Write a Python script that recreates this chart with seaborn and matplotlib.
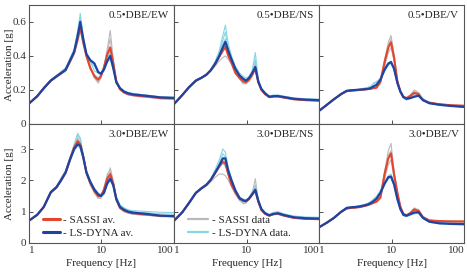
import matplotlib
matplotlib.use("Agg")
import matplotlib.pyplot as plt
from matplotlib.lines import Line2D
from matplotlib.ticker import FixedLocator, NullLocator
import seaborn as sns

freq = [1, 1.3, 1.6, 2, 2.4, 2.8, 3.2, 3.7, 4.2, 4.7, 5.1, 5.6, 6.2, 7, 8, 9, 9.8, 10.8,
        12, 13.2, 14.5, 16, 18, 20.5, 23.5, 27, 33, 45, 65, 100]

# 0.5 DBE / EW
ew05_dyna = [0.12,0.163,0.21,0.255,0.28,0.30,0.318,0.375,0.425,0.52,0.60,0.50,0.41,0.375,0.355,0.305,0.295,0.32,0.37,0.40,0.33,0.245,0.21,0.19,0.18,0.174,0.17,0.164,0.156,0.153]
ew05_sassi = [0.12,0.163,0.21,0.255,0.28,0.30,0.318,0.37,0.42,0.50,0.57,0.48,0.40,0.33,0.28,0.26,0.28,0.33,0.41,0.45,0.36,0.25,0.205,0.185,0.175,0.17,0.165,0.16,0.152,0.15]
ew05_sassi_data = [
    [0.12,0.165,0.21,0.26,0.285,0.31,0.33,0.38,0.43,0.53,0.62,0.50,0.41,0.34,0.27,0.24,0.27,0.34,0.44,0.55,0.38,0.26,0.21,0.19,0.18,0.175,0.17,0.165,0.158,0.155],
    [0.12,0.16,0.205,0.25,0.275,0.295,0.31,0.36,0.41,0.48,0.55,0.47,0.39,0.32,0.29,0.27,0.29,0.32,0.39,0.42,0.34,0.24,0.20,0.18,0.17,0.165,0.16,0.155,0.148,0.145],
    [0.12,0.163,0.212,0.258,0.282,0.305,0.325,0.37,0.42,0.51,0.58,0.49,0.40,0.33,0.27,0.25,0.27,0.34,0.42,0.50,0.37,0.255,0.21,0.19,0.178,0.172,0.166,0.16,0.153,0.15]]
ew05_dyna_data = [
    [0.12,0.165,0.215,0.26,0.285,0.305,0.33,0.39,0.44,0.55,0.65,0.52,0.42,0.38,0.36,0.31,0.30,0.33,0.38,0.42,0.34,0.25,0.215,0.195,0.185,0.18,0.175,0.168,0.16,0.158],
    [0.12,0.16,0.205,0.25,0.275,0.295,0.31,0.365,0.41,0.50,0.58,0.48,0.40,0.36,0.34,0.30,0.29,0.31,0.36,0.38,0.32,0.24,0.205,0.185,0.175,0.17,0.165,0.16,0.152,0.15],
    [0.12,0.163,0.21,0.257,0.28,0.30,0.32,0.38,0.43,0.53,0.62,0.51,0.41,0.37,0.31,0.30,0.30,0.33,0.38,0.44,0.35,0.25,0.21,0.19,0.18,0.176,0.172,0.166,0.158,0.155]]

# 0.5 DBE / NS
ns05_dyna = [0.117,0.17,0.215,0.255,0.272,0.29,0.315,0.355,0.40,0.45,0.483,0.43,0.38,0.325,0.285,0.265,0.255,0.27,0.30,0.335,0.25,0.205,0.18,0.16,0.163,0.164,0.158,0.148,0.143,0.14]
ns05_sassi = [0.117,0.17,0.215,0.255,0.272,0.29,0.315,0.353,0.395,0.43,0.453,0.40,0.36,0.30,0.27,0.25,0.245,0.26,0.29,0.325,0.245,0.20,0.175,0.158,0.162,0.162,0.155,0.145,0.14,0.137]
ns05_sassi_data = [
    [0.117,0.17,0.212,0.25,0.268,0.285,0.31,0.34,0.37,0.39,0.40,0.38,0.35,0.30,0.27,0.24,0.235,0.25,0.28,0.33,0.24,0.20,0.175,0.155,0.16,0.16,0.152,0.143,0.138,0.135],
    [0.117,0.17,0.215,0.255,0.272,0.29,0.315,0.35,0.39,0.43,0.46,0.41,0.36,0.31,0.28,0.26,0.25,0.26,0.30,0.36,0.25,0.205,0.18,0.16,0.165,0.165,0.158,0.148,0.143,0.14],
    [0.117,0.168,0.21,0.25,0.27,0.288,0.312,0.35,0.40,0.45,0.48,0.42,0.37,0.31,0.265,0.235,0.24,0.26,0.29,0.34,0.245,0.20,0.175,0.157,0.16,0.16,0.155,0.145,0.14,0.137]]
ns05_dyna_data = [
    [0.117,0.172,0.218,0.258,0.275,0.295,0.32,0.37,0.43,0.52,0.58,0.47,0.40,0.34,0.30,0.28,0.27,0.28,0.31,0.38,0.26,0.21,0.185,0.165,0.17,0.17,0.163,0.153,0.148,0.145],
    [0.117,0.17,0.215,0.255,0.272,0.29,0.315,0.36,0.41,0.47,0.50,0.45,0.39,0.33,0.29,0.27,0.26,0.27,0.30,0.33,0.25,0.205,0.18,0.16,0.165,0.165,0.16,0.15,0.145,0.142],
    [0.117,0.17,0.213,0.252,0.27,0.29,0.318,0.36,0.42,0.49,0.54,0.44,0.38,0.32,0.285,0.26,0.255,0.275,0.32,0.42,0.26,0.21,0.185,0.163,0.168,0.168,0.16,0.15,0.145,0.143]]

# 0.5 DBE / V
v05_dyna = [0.077,0.115,0.145,0.175,0.195,0.198,0.20,0.202,0.204,0.206,0.21,0.22,0.23,0.26,0.32,0.355,0.364,0.325,0.24,0.19,0.158,0.148,0.152,0.16,0.166,0.14,0.122,0.113,0.106,0.10]
v05_sassi = [0.077,0.115,0.145,0.175,0.193,0.196,0.198,0.20,0.203,0.205,0.207,0.21,0.213,0.25,0.365,0.45,0.48,0.39,0.25,0.19,0.16,0.152,0.165,0.183,0.175,0.14,0.125,0.116,0.11,0.107]
v05_sassi_data = [
    [0.077,0.115,0.145,0.175,0.193,0.196,0.198,0.20,0.203,0.205,0.207,0.21,0.215,0.24,0.38,0.48,0.52,0.41,0.26,0.195,0.16,0.15,0.17,0.20,0.185,0.145,0.128,0.118,0.112,0.108],
    [0.077,0.113,0.143,0.172,0.19,0.194,0.196,0.198,0.2,0.203,0.205,0.21,0.215,0.235,0.34,0.42,0.45,0.37,0.24,0.185,0.157,0.15,0.16,0.175,0.17,0.138,0.122,0.113,0.108,0.105],
    [0.077,0.115,0.146,0.176,0.195,0.198,0.2,0.205,0.21,0.215,0.22,0.225,0.23,0.25,0.35,0.46,0.50,0.38,0.25,0.19,0.16,0.15,0.162,0.19,0.18,0.14,0.125,0.116,0.11,0.106]]
v05_dyna_data = [
    [0.077,0.116,0.147,0.177,0.197,0.2,0.202,0.205,0.21,0.215,0.22,0.235,0.245,0.27,0.33,0.36,0.37,0.33,0.245,0.19,0.155,0.145,0.155,0.17,0.18,0.15,0.125,0.115,0.108,0.102],
    [0.077,0.114,0.144,0.174,0.194,0.197,0.2,0.2,0.202,0.205,0.21,0.22,0.235,0.26,0.31,0.345,0.355,0.32,0.235,0.185,0.152,0.14,0.148,0.158,0.165,0.145,0.12,0.11,0.104,0.098],
    [0.077,0.115,0.145,0.175,0.195,0.198,0.2,0.203,0.205,0.21,0.215,0.24,0.25,0.265,0.33,0.35,0.36,0.315,0.24,0.19,0.155,0.143,0.15,0.165,0.175,0.148,0.123,0.113,0.106,0.1]]

# 3.0 DBE / EW
ew30_dyna = [0.71,0.90,1.15,1.62,1.78,2.02,2.25,2.68,3.00,3.15,3.1,2.75,2.25,1.95,1.70,1.55,1.5,1.6,1.9,2.05,1.85,1.40,1.15,1.06,1.0,0.97,0.95,0.92,0.87,0.86]
ew30_sassi = [0.71,0.90,1.15,1.62,1.78,2.02,2.25,2.68,3.05,3.25,3.15,2.75,2.25,1.92,1.65,1.5,1.5,1.7,2.05,2.2,1.9,1.4,1.12,1.03,0.98,0.95,0.93,0.9,0.87,0.85]
ew30_sassi_data = [
    [0.71,0.9,1.15,1.6,1.77,2.05,2.3,2.7,3.1,3.45,3.3,2.8,2.2,1.85,1.6,1.45,1.42,1.65,2.1,2.4,2.0,1.45,1.15,1.05,0.98,0.95,0.93,0.9,0.86,0.85],
    [0.71,0.88,1.12,1.58,1.75,1.98,2.2,2.62,2.95,3.2,3.05,2.7,2.3,1.95,1.65,1.5,1.47,1.62,1.95,2.15,1.85,1.38,1.1,1.0,0.95,0.92,0.9,0.88,0.84,0.83],
    [0.71,0.91,1.16,1.63,1.8,2.1,2.3,2.75,3.1,3.35,3.2,2.75,2.25,1.9,1.6,1.42,1.45,1.75,2.2,2.3,1.9,1.42,1.13,1.03,0.97,0.94,0.92,0.9,0.86,0.85]]
ew30_dyna_data = [
    [0.71,0.91,1.17,1.65,1.82,2.08,2.32,2.75,3.15,3.5,3.35,2.85,2.3,2.0,1.75,1.6,1.55,1.65,1.95,2.15,1.95,1.5,1.22,1.12,1.06,1.03,1.02,1.0,0.98,0.97],
    [0.71,0.89,1.13,1.6,1.77,2.0,2.22,2.65,2.95,3.1,3.0,2.65,2.2,1.9,1.65,1.5,1.45,1.55,1.85,2.0,1.8,1.35,1.1,1.0,0.95,0.92,0.9,0.88,0.85,0.84],
    [0.71,0.9,1.15,1.62,1.79,2.04,2.28,2.72,3.05,3.3,3.2,2.8,2.3,1.98,1.72,1.55,1.5,1.6,1.92,2.1,1.9,1.45,1.18,1.08,1.02,1.0,0.98,0.96,0.93,0.92]]

# 3.0 DBE / NS
ns30_dyna = [0.71,0.98,1.27,1.6,1.75,1.86,2.01,2.25,2.47,2.70,2.70,2.30,2.0,1.68,1.43,1.36,1.34,1.42,1.56,1.70,1.35,1.08,0.95,0.88,0.93,0.95,0.89,0.82,0.79,0.78]
ns30_sassi = [0.71,0.98,1.27,1.6,1.75,1.86,2.01,2.24,2.45,2.58,2.55,2.2,1.85,1.62,1.42,1.35,1.33,1.4,1.55,1.67,1.32,1.05,0.93,0.87,0.92,0.93,0.87,0.8,0.77,0.76]
ns30_sassi_data = [
    [0.71,0.97,1.25,1.57,1.72,1.82,1.95,2.1,2.2,2.2,2.15,2.0,1.8,1.55,1.35,1.28,1.27,1.4,1.6,2.05,1.35,1.05,0.92,0.86,0.9,0.92,0.86,0.79,0.76,0.75],
    [0.71,0.98,1.27,1.6,1.75,1.86,2.0,2.25,2.45,2.6,2.5,2.15,1.85,1.6,1.38,1.3,1.3,1.4,1.55,1.65,1.3,1.05,0.93,0.87,0.92,0.94,0.88,0.81,0.78,0.77],
    [0.71,0.97,1.26,1.58,1.74,1.85,2.0,2.2,2.4,2.55,2.45,2.2,1.9,1.6,1.4,1.25,1.28,1.45,1.65,1.85,1.35,1.07,0.94,0.88,0.93,0.95,0.88,0.8,0.77,0.76]]
ns30_dyna_data = [
    [0.71,0.99,1.29,1.62,1.77,1.88,2.05,2.35,2.65,3.0,2.9,2.4,2.05,1.72,1.48,1.4,1.38,1.45,1.6,1.8,1.4,1.12,0.98,0.92,0.98,1.0,0.93,0.86,0.83,0.82],
    [0.71,0.98,1.27,1.6,1.75,1.86,2.02,2.25,2.45,2.65,2.6,2.25,1.95,1.65,1.42,1.35,1.33,1.42,1.56,1.72,1.35,1.08,0.95,0.88,0.93,0.95,0.89,0.82,0.79,0.78],
    [0.71,0.97,1.26,1.59,1.74,1.85,2.0,2.28,2.55,2.85,2.75,2.3,1.95,1.65,1.42,1.33,1.31,1.4,1.52,1.65,1.32,1.05,0.93,0.87,0.92,0.94,0.88,0.81,0.78,0.77]]

# 3.0 DBE / V
v30_dyna = [0.5,0.66,0.8,0.99,1.12,1.14,1.15,1.17,1.2,1.23,1.27,1.33,1.42,1.6,1.9,2.1,2.12,1.87,1.4,1.08,0.9,0.87,0.92,0.97,0.98,0.8,0.68,0.63,0.61,0.6]
v30_sassi = [0.5,0.66,0.8,0.99,1.1,1.12,1.13,1.15,1.18,1.21,1.24,1.28,1.32,1.45,2.2,2.7,2.86,2.18,1.6,1.15,0.93,0.88,0.95,1.07,1.02,0.82,0.72,0.7,0.69,0.69]
v30_sassi_data = [
    [0.5,0.66,0.8,0.99,1.1,1.12,1.13,1.15,1.18,1.21,1.24,1.28,1.32,1.5,2.3,2.95,3.18,2.3,1.65,1.18,0.95,0.9,0.97,1.12,1.05,0.85,0.73,0.7,0.69,0.68],
    [0.5,0.65,0.79,0.98,1.09,1.11,1.12,1.14,1.17,1.2,1.23,1.27,1.31,1.42,2.05,2.5,2.65,2.1,1.55,1.12,0.92,0.87,0.93,1.05,1.0,0.8,0.7,0.67,0.66,0.65],
    [0.5,0.66,0.8,1.0,1.11,1.13,1.14,1.16,1.19,1.22,1.25,1.3,1.35,1.5,2.25,2.8,2.95,2.25,1.6,1.15,0.93,0.88,0.95,1.1,1.03,0.83,0.72,0.69,0.68,0.67]]
v30_dyna_data = [
    [0.5,0.67,0.81,1.0,1.13,1.15,1.17,1.2,1.23,1.27,1.32,1.4,1.5,1.68,1.95,2.15,2.2,1.9,1.42,1.1,0.9,0.86,0.92,1.0,1.08,0.85,0.7,0.64,0.62,0.61],
    [0.5,0.65,0.79,0.98,1.11,1.13,1.14,1.16,1.18,1.21,1.24,1.3,1.38,1.55,1.85,2.05,2.08,1.82,1.35,1.05,0.87,0.84,0.88,0.93,0.95,0.78,0.66,0.61,0.59,0.58],
    [0.5,0.66,0.8,0.99,1.12,1.14,1.16,1.18,1.21,1.25,1.3,1.36,1.45,1.62,1.9,2.1,2.15,1.88,1.4,1.08,0.88,0.85,0.9,0.97,1.02,0.82,0.68,0.62,0.6,0.59]]

titles = ["0.5\u2022DBE/EW", "0.5\u2022DBE/NS", "0.5\u2022DBE/V",
          "3.0\u2022DBE/EW", "3.0\u2022DBE/NS", "3.0\u2022DBE/V"]
x_ticks = [1, 10, 100]
x_labels = ["1", "10", "100"]
y_ticks_top = [0, 0.2, 0.4, 0.6]
y_labels_top = ["0", "0.2", "0.4", "0.6"]
y_ticks_bot = [0, 1, 2, 3]
y_labels_bot = ["0", "1", "2", "3"]

panels = [
    (ew05_sassi, ew05_dyna, ew05_sassi_data, ew05_dyna_data),
    (ns05_sassi, ns05_dyna, ns05_sassi_data, ns05_dyna_data),
    (v05_sassi, v05_dyna, v05_sassi_data, v05_dyna_data),
    (ew30_sassi, ew30_dyna, ew30_sassi_data, ew30_dyna_data),
    (ns30_sassi, ns30_dyna, ns30_sassi_data, ns30_dyna_data),
    (v30_sassi, v30_dyna, v30_sassi_data, v30_dyna_data),
]

RED = "#e5452c"
BLUE = "#1f43a3"
GREY = "#b9b9b9"
CYAN = "#86d5e5"

sns.set_theme(style="ticks")
plt.rcParams["font.family"] = ["Liberation Serif", "DejaVu Serif"]
plt.rcParams["font.size"] = 8
plt.rcParams["axes.edgecolor"] = "#555555"
plt.rcParams["axes.linewidth"] = 0.8

fig, axes = plt.subplots(2, 3, figsize=(4.67, 2.73), dpi=100, sharex=True)
fig.subplots_adjust(left=0.062, right=0.994, bottom=0.11, top=0.982, wspace=0, hspace=0)

for i, ax in enumerate(axes.flat):
    sassi, dyna, sassi_data, dyna_data = panels[i]
    for rec in sassi_data:
        sns.lineplot(x=freq, y=rec, ax=ax, color=GREY, lw=0.8)
    for rec in dyna_data:
        sns.lineplot(x=freq, y=rec, ax=ax, color=CYAN, lw=0.8)
    sns.lineplot(x=freq, y=sassi, ax=ax, color=RED, lw=1.5)
    sns.lineplot(x=freq, y=dyna, ax=ax, color=BLUE, lw=1.6)

    ax.set_xscale("log")
    ax.set_xlim(1, 100)
    ax.xaxis.set_major_locator(FixedLocator(x_ticks))
    ax.xaxis.set_minor_locator(NullLocator())
    ax.set_xticklabels(x_labels)
    row, col = divmod(i, 3)
    if row == 0:
        ax.set_ylim(0, 0.7)
        ax.set_yticks(y_ticks_top)
        ax.set_yticklabels(y_labels_top)
    else:
        ax.set_ylim(0, 3.8)
        ax.set_yticks(y_ticks_bot)
        ax.set_yticklabels(y_labels_bot)
        ax.set_xlabel("Frequency [Hz]", fontsize=8, labelpad=3)
        # keep "100" and the next panel's "1" side by side at the shared edge
        xl = ax.get_xticklabels()
        xl[0].set_horizontalalignment("left")
        xl[2].set_horizontalalignment("right")
    if col == 0:
        ax.set_ylabel("Acceleration [g]", fontsize=8)
        ax.yaxis.set_label_coords(-0.105, 0.5)
    else:
        ax.tick_params(axis="y", labelleft=False)
        ax.set_ylabel("")
    ax.tick_params(direction="in", length=3, width=0.6, labelsize=8, pad=2,
                   colors="#333333")
    ax.text(0.965, 0.915, titles[i], transform=ax.transAxes, ha="right",
            va="center", fontsize=8)

h_avg = [Line2D([], [], color=RED, lw=2.2), Line2D([], [], color=BLUE, lw=2.2)]
axes[1, 0].legend(h_avg, ["- SASSI av.", "- LS-DYNA av."], loc="lower left",
                  bbox_to_anchor=(0.03, -0.04), frameon=False, fontsize=8,
                  handlelength=1.5, handletextpad=0.3, labelspacing=0.25)
h_data = [Line2D([], [], color=GREY, lw=1.6), Line2D([], [], color=CYAN, lw=1.6)]
axes[1, 1].legend(h_data, ["- SASSI data", "- LS-DYNA data."], loc="lower left",
                  bbox_to_anchor=(0.03, -0.04), frameon=False, fontsize=8,
                  handlelength=1.8, handletextpad=0.3, labelspacing=0.25)

fig.savefig("out.png", dpi=100)
